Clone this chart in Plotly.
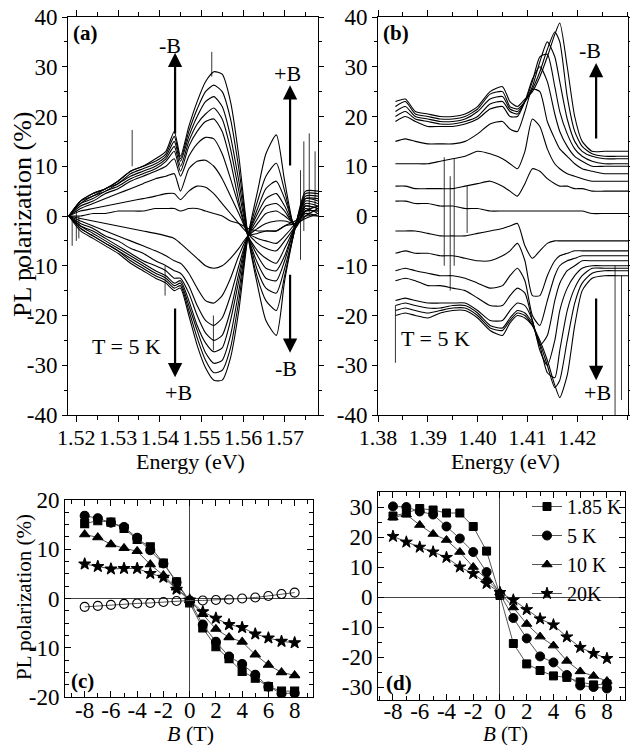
import plotly.graph_objects as go

FONT = "Liberation Serif"

# ---------------- panel (a) data ----------------
a_energy = [1.5182, 1.5210, 1.5240, 1.5270, 1.5300, 1.5330, 1.5360, 1.5390, 1.5415, 1.5435,
            1.5450, 1.5470, 1.5490, 1.5510, 1.5530, 1.5550, 1.5570, 1.5590, 1.5612, 1.5635,
            1.5655, 1.5680, 1.5700, 1.5725, 1.5750, 1.5780]
# negative field (-B), B = -1 ... -8
a_curves_negB = [
    [0, 1, 1.5, 2, 2.5, 3, 3.5, 4, 4.5, 4.5, 3.3, 5, 6, 5.8, 4.5, 2.5, 0.5, -1.5, -3.5, -4.5, -5, -5.5, -4, -1.5, 2, 1.5],
    [0, 1.5, 2.5, 3.5, 4.5, 5.5, 6.5, 7.5, 8, 8.5, 5, 9.5, 11, 11.2, 10, 7.5, 4, 0.5, -3.5, -5.5, -6.5, -7, -5, -2, 2.5, 2],
    [0, 2, 3, 4.5, 5.5, 7, 8, 9, 10, 11.5, 8, 12, 14.5, 15.8, 15.5, 12.5, 7.5, 2, -4, -7, -8.5, -9.5, -6.5, -2, 3, 2.5],
    [0, 2.5, 3.5, 5, 6, 7.5, 8.5, 9.5, 11, 13, 9, 14, 17, 19, 19.5, 17, 11, 3, -4, -8, -10.5, -11, -8, -2, 3.5, 3],
    [0, 2.5, 4, 5, 6.5, 8, 9, 10, 11.5, 14, 10, 15, 18.5, 20.5, 21.7, 19.5, 13.5, 5, -4, -9.5, -12.5, -13, -9, -2, 3.5, 3.5],
    [0, 3, 4, 5.5, 6.5, 8.5, 9.5, 10.5, 12, 15, 11, 16, 20, 23, 24, 22, 16, 7, -4, -11, -14.5, -15.5, -10.5, -2.5, 4, 4],
    [0, 3, 4.5, 5.5, 7, 9, 10, 11, 12.5, 16, 11.5, 17, 21.5, 25, 26.3, 25, 19.5, 9.5, -4, -12.5, -17, -19, -12, -2.5, 4.5, 4.5],
    [0, 3, 4.5, 5.5, 7, 9, 10, 11.5, 13, 17, 12, 18, 23, 27, 29, 28.5, 23, 12, -4, -14, -21, -24, -13, -2.5, 5, 5],
]
a_curve_zeroB = [0, 0, 0.5, 0.5, 1, 1, 1, 1.5, 1.5, 1.5, 1, 1.5, 1.5, 1, 0.5, 0, -1, -1.5, -2.5, -3, -3, -3, -2, -1.5, 1, 1]
# positive field (+B), B = 1 ... 8
a_curves_posB = [
    [0, -0.5, -1, -1.5, -2, -2.5, -3, -3.5, -4, -4.5, -5.5, -7, -8.5, -10, -10.5, -10, -8.5, -6.5, -4, -3.5, -3, -3, -2, -1, 0, 0],
    [0, -1, -2, -3, -4, -5, -6, -7, -8, -9, -9.5, -11.5, -14.5, -17, -17.5, -16, -12.5, -8, -4, -2.5, -1.5, -1, -1, -1.5, -0.5, 0.5],
    [0, -1.5, -2.5, -4, -5, -6.5, -7.5, -9, -10, -11, -11.5, -14, -18, -21, -22, -20.5, -16, -10, -4, -1.5, 0.5, 1, 0, -1.5, 0.5, 0],
    [0, -2, -3, -4.5, -6, -7.5, -9, -10, -11, -12.5, -12.5, -15.5, -20, -23.5, -25, -24, -19, -11.5, -4, -0.5, 2, 2.5, 1, -2, 1, 1],
    [0, -2, -3.5, -5, -6.5, -8, -9.5, -11, -12, -13.5, -13, -17, -22, -25.5, -27.3, -26.5, -21, -13, -4, 0.5, 3.5, 4.5, 2, -2, 0, 1.5],
    [0, -2.5, -4, -5.5, -7, -8.5, -10, -11.5, -12.5, -14, -13.5, -18, -23, -27.5, -29.6, -29, -24, -15, -4, 1.5, 5.5, 7, 3.5, -2, 1.5, 0.5],
    [0, -2.5, -4, -5.5, -7, -9, -10.5, -12, -13, -14.5, -14, -19, -24.5, -29, -31.5, -31, -26.5, -17, -4, 3, 8, 10.6, 5, -2.5, 2, 1.5],
    [0, -3, -4.5, -6, -7.5, -9.5, -11, -12.5, -13.5, -15, -14.5, -20, -26, -30.5, -33, -33, -28.5, -19, -4, 5, 12.5, 16.3, 7, -2.5, 1, 2],
]
a_spike_energy = [1.5190, 1.5200, 1.5206, 1.5334, 1.5413, 1.5525, 1.5529, 1.5738, 1.5746, 1.5759, 1.5773]
a_spike_low = [-6, -5, -4.5, 10, -16, 28, -27, -8.8, -3, 0, 2]
a_spike_high = [-0.5, 1, 0, 17.3, -10, 33, -20, 9.2, 15, 16.6, 13]
a_xticks = [1.52, 1.53, 1.54, 1.55, 1.56, 1.57]
a_xticklabels = ["1.52", "1.53", "1.54", "1.55", "1.56", "1.57"]

# ---------------- panel (b) data ----------------
b_energy = [1.3835, 1.3855, 1.3875, 1.3900, 1.3925, 1.3950, 1.3975, 1.4000, 1.4025, 1.4050,
            1.4065, 1.4080, 1.4095, 1.4110, 1.4125, 1.4140, 1.4155, 1.4165, 1.4180, 1.4195,
            1.4210, 1.4230, 1.4255, 1.4280, 1.4302]
b_curves_negB = [
    [6, 6, 5.5, 5.5, 5.5, 5.5, 6, 6.5, 7, 6, 5, 4, 6.5, 9.5, 9, 7.5, 6.5, 6, 6, 5.5, 5.5, 5, 5, 5, 5],
    [10.5, 10.5, 10.5, 10.5, 11, 11.5, 12, 13, 12.5, 11.5, 10.5, 9.5, 13, 19.5, 18, 13.5, 10.5, 9.5, 8.5, 8, 7.5, 7, 7, 7, 7],
    [15, 15.5, 15, 14.5, 14.5, 14.5, 15, 16.5, 18.5, 19, 17.5, 17, 21, 25.5, 25, 19, 15.5, 13.5, 12, 10.5, 9.5, 9, 8.5, 8.5, 8.5],
    [19, 20, 19, 18, 18, 18, 18.5, 19.5, 21.5, 22, 20, 20, 23, 27.5, 30, 27, 20.5, 17, 14, 12, 11, 10, 10, 10, 10],
    [20, 21, 19.5, 19, 18.5, 18.5, 19, 20, 22.5, 23, 21, 20.5, 23, 27, 32, 32.5, 26, 21, 16.5, 13.5, 12, 11, 10.5, 10.5, 10.5],
    [21, 22, 20, 19.5, 19, 19, 19.5, 21, 23.5, 24, 21.5, 21, 23, 26, 31, 35, 32, 27, 19.5, 15, 13, 12, 11.5, 11.5, 11.5],
    [22, 23, 20.5, 20, 19.5, 19.5, 20, 21.5, 24.5, 25, 22, 21.5, 23, 25.5, 29, 33.5, 37, 35, 24, 17, 14, 12.5, 12, 12, 12],
    [23, 23.5, 21, 20.5, 20, 20, 20.5, 22, 25, 26, 23, 22, 23.5, 25, 28, 32, 36.5, 38.8, 30, 20, 15, 13, 13, 13, 13],
]
b_curve_zeroB = [3, 3, 2.5, 2.5, 2, 2, 1.5, 1.5, 1, 1, 1, 1, 1, 1, 1, 1, 1, 1, 1, 1, 1, 0.5, 0.5, 0.5, 0.5]
b_curves_posB = [
    [-3, -3, -3, -3.5, -4, -4, -4, -3.5, -3, -2.5, -2, -1.5, -6, -8.5, -7, -5.5, -5, -5, -5, -5, -5, -5, -5, -5, -5],
    [-7.5, -7, -7.5, -7.5, -8, -8, -8.5, -9, -9, -8, -7, -5.5, -9, -16, -16, -12, -9, -8, -7.5, -7, -7, -7, -7, -7, -7],
    [-11, -10.5, -11, -11.5, -12, -12, -12.5, -13.5, -14.5, -14, -12, -10.5, -13, -20, -22, -17, -12, -10, -9, -8.5, -8, -8, -8, -8, -8],
    [-13, -12.5, -13, -14, -14, -14.5, -15, -16.5, -18, -18, -16, -14.5, -15.5, -21, -26, -24, -17, -13.5, -11, -10, -9, -9, -9, -9, -9],
    [-17, -16.5, -17, -17.5, -17.5, -17.5, -17.5, -19, -21, -21, -19, -17.5, -18, -21, -27, -30, -25, -19, -14.5, -12, -10.5, -10, -10, -10, -10],
    [-18, -17.5, -18, -18.5, -18.5, -18, -18, -19.5, -22, -22.5, -20.5, -19, -19.5, -21.5, -26, -31.5, -32.5, -27, -19, -14.5, -12, -10.5, -10.5, -10.5, -10.5],
    [-19, -18.5, -19, -19.5, -19, -18.5, -18.5, -20, -22.5, -23, -21, -19.5, -20, -22, -25.5, -30, -34.5, -33, -25, -17.5, -13.5, -11.5, -11, -11, -11],
    [-20, -19.5, -20, -20.5, -19.5, -19, -19, -20.5, -23, -24, -21.5, -20, -20.5, -22, -25, -29, -34, -36.5, -32, -22, -15, -12.5, -12, -12, -12],
]
b_spike_energy = [1.3835, 1.3933, 1.3945, 1.3953, 1.3979, 1.4276, 1.4289]
b_spike_low = [-29.5, -10, -15, -10, -3.4, -40, -37]
b_spike_high = [-18, 11.8, 8, 11.5, 6, -10, -12]
b_xticks = [1.38, 1.39, 1.40, 1.41, 1.42]
b_xticklabels = ["1.38", "1.39", "1.40", "1.41", "1.42"]

ab_yticks = [-40, -30, -20, -10, 0, 10, 20, 30, 40]
ab_yticklabels = ["-40", "-30", "-20", "-10", "0", "10", "20", "30", "40"]

# ---------------- panel (c) data ----------------
c_field = [-8, -7, -6, -5, -4, -3, -2, -1, 0, 1, 2, 3, 4, 5, 6, 7, 8]
c_circle = [16.8, 16.3, 15.4, 14.5, 12.3, 9.8, 7.1, 3.3, -0.5, -5.3, -8.8, -11.8, -13.3, -15.5, -17.9, -19.3, -19.2]
c_square = [15.2, 15.8, 15.5, 14.2, 12.0, 10.5, 7.2, 3.4, -0.9, -6.0, -9.8, -12.2, -14.8, -16.2, -17.9, -18.8, -18.8]
c_triangle = [13.0, 12.4, 11.0, 10.2, 9.6, 6.9, 4.7, 2.2, -0.4, -3.2, -6.2, -7.9, -8.8, -11.4, -13.5, -15.0, -15.6]
c_star = [7.0, 6.5, 6.0, 6.1, 6.1, 5.1, 4.3, 1.9, -0.3, -2.7, -4.0, -5.3, -5.9, -7.2, -8.0, -8.7, -9.0]
c_open = [-1.7, -1.5, -1.3, -1.1, -1.0, -0.9, -0.7, -0.5, -0.4, -0.4, -0.3, -0.2, 0.0, 0.2, 0.5, 0.9, 1.2]
c_yticks = [-20, -10, 0, 10, 20]
c_yticklabels = ["-20", "-10", "0", "10", "20"]

# ---------------- panel (d) data ----------------
d_field = [-8, -7, -6, -5, -4, -3, -2, -1, 0, 1, 2, 3, 4, 5, 6, 7, 8]
d_1p85K = [27.0, 28.0, 29.5, 29.0, 28.0, 28.0, 23.5, 15.3, 0.5, -15.5, -22.3, -24.5, -26.3, -26.8, -28.3, -29.3, -29.0]
d_5K = [30.2, 30.0, 28.5, 27.5, 23.5, 19.5, 15.0, 8.3, 1.0, -7.0, -13.8, -19.8, -21.8, -26.0, -29.5, -30.0, -30.5]
d_10K = [26.5, 27.5, 24.0, 21.0, 19.0, 15.0, 10.0, 6.0, 1.5, -3.5, -9.0, -13.2, -16.2, -21.3, -24.8, -26.3, -28.0]
d_20K = [20.2, 18.3, 16.6, 15.0, 13.2, 10.0, 7.8, 4.5, 1.5, -1.0, -4.2, -7.3, -9.3, -13.3, -16.8, -18.8, -20.5]
d_labels = ["1.85 K", "5 K", "10 K", "20K"]
d_yticks = [-30, -20, -10, 0, 10, 20, 30]
d_yticklabels = ["-30", "-20", "-10", "0", "10", "20", "30"]

B_ticks = [-8, -6, -4, -2, 0, 2, 4, 6, 8]
B_ticklabels = ["-8", "-6", "-4", "-2", "0", "2", "4", "6", "8"]

# ---------------- figure ----------------
W, H = 630, 745
fig = go.Figure()


def px_x(p):
    return p / W


def px_y(p):
    return 1 - p / H


def add_spectra(energy, curves, xa, ya):
    for c in curves:
        fig.add_trace(go.Scatter(
            x=energy, y=c, mode="lines", xaxis=xa, yaxis=ya, showlegend=False,
            hoverinfo="skip",
            line=dict(color="black", width=1.1, shape="spline", smoothing=0.6)))


def add_spikes(es, lo, hi, xa, ya):
    xs, ys = [], []
    for e, l, h in zip(es, lo, hi):
        xs += [e, e, None]
        ys += [l, h, None]
    fig.add_trace(go.Scatter(x=xs, y=ys, mode="lines", xaxis=xa, yaxis=ya,
                             showlegend=False, hoverinfo="skip",
                             line=dict(color="black", width=0.8)))


add_spectra(a_energy, a_curves_negB + [a_curve_zeroB] + a_curves_posB, "x", "y")
add_spikes(a_spike_energy, a_spike_low, a_spike_high, "x", "y")
add_spectra(b_energy, b_curves_negB + [b_curve_zeroB] + b_curves_posB, "x2", "y2")
add_spikes(b_spike_energy, b_spike_low, b_spike_high, "x2", "y2")

LINE_GREY = "#555555"
c_series = [
    (c_square, "square", 8),
    (c_circle, "circle", 9),
    (c_triangle, "triangle-up", 9),
    (c_star, "star", 9),
    (c_open, "circle-open", 9),
]
for vals, sym, sz in c_series:
    fig.add_trace(go.Scatter(
        x=c_field, y=vals, mode="lines+markers", xaxis="x3", yaxis="y3",
        showlegend=False, hoverinfo="skip",
        line=dict(color=LINE_GREY, width=1),
        marker=dict(symbol=sym, size=sz, color="black", line=dict(color="black", width=1.1))))

d_series = [
    (d_1p85K, "square", 8),
    (d_5K, "circle", 9),
    (d_10K, "triangle-up", 9),
    (d_20K, "star", 9),
]
for (vals, sym, sz), lab in zip(d_series, d_labels):
    fig.add_trace(go.Scatter(
        x=d_field, y=vals, mode="lines+markers", xaxis="x4", yaxis="y4",
        name=lab, showlegend=True, hoverinfo="skip",
        line=dict(color=LINE_GREY, width=1),
        marker=dict(symbol=sym, size=sz, color="black", line=dict(color="black", width=1))))


def axis(domain, rng, tickvals, ticktext, anchor, minor_dtick, minor_tick0, zero=False,
         ticklen=7, ticks="outside", minorlen=4, fontsize=23, standoff=0):
    return dict(
        domain=domain, range=rng, anchor=anchor, automargin=False,
        tickmode="array", tickvals=tickvals, ticktext=ticktext, tickangle=0,
        ticks=ticks, ticklen=ticklen, tickwidth=1, tickcolor="black",
        ticklabelstandoff=standoff,
        minor=dict(dtick=minor_dtick, tick0=minor_tick0, ticks=ticks, ticklen=minorlen,
                   tickwidth=1, tickcolor="black", showgrid=False),
        showline=True, linewidth=1, linecolor="black", mirror="ticks",
        showgrid=False, zeroline=zero, zerolinecolor="#444444", zerolinewidth=1,
        tickfont=dict(family=FONT, size=fontsize, color="black"), fixedrange=True)


top_y = [px_y(415), px_y(17)]
fig.update_layout(
    xaxis=axis([px_x(68), px_x(318)], [1.518, 1.578], a_xticks, a_xticklabels, "y", 0.005, 1.52,
               ticklen=6, fontsize=22, standoff=-3),
    yaxis=axis(top_y, [-40, 40], ab_yticks, ab_yticklabels, "x", 5, 0, ticklen=5, minorlen=3),
    xaxis2=axis([px_x(378), px_x(628)], [1.38, 1.4302], b_xticks, b_xticklabels, "y2", 0.005, 1.38,
                ticklen=6, fontsize=22, standoff=-3),
    yaxis2=axis(top_y, [-40, 40], ab_yticks, ab_yticklabels, "x2", 5, 0, ticklen=5, minorlen=3),
    xaxis3=axis([px_x(65), px_x(313)], [-9.5, 9.4], B_ticks, B_ticklabels, "y3", 1, 0, zero=True,
                ticklen=6, ticks="inside", minorlen=4, standoff=-8),
    yaxis3=axis([px_y(697), px_y(500)], [-20, 20], c_yticks, c_yticklabels, "x3", 2.5, 0, zero=True,
                ticklen=6, ticks="inside", minorlen=4),
    xaxis4=axis([px_x(378), px_x(625)], [-9.12, 9.35], B_ticks, B_ticklabels, "y4", 1, 0, zero=True,
                ticklen=6, ticks="inside", minorlen=4, standoff=-10),
    yaxis4=axis([px_y(700), px_y(492)], [-34.33, 35], d_yticks, d_yticklabels, "x4", 5, 0, zero=True,
                ticklen=6, ticks="inside", minorlen=4),
)

annotations = []


def text(x, y, s, size=22, bold=False, angle=0, yanchor="middle"):
    annotations.append(dict(
        x=x, y=y, xref="paper", yref="paper", text=("<b>%s</b>" % s) if bold else s,
        showarrow=False, textangle=angle, xanchor="center", yanchor=yanchor,
        font=dict(family=FONT, size=size, color="black")))


def arrow(xa, ya, x, y_tail, y_tip):
    annotations.append(dict(
        x=x, y=y_tip, ax=x, ay=y_tail, xref=xa, yref=ya, axref=xa, ayref=ya,
        text="", showarrow=True, arrowhead=2, arrowsize=1.3, arrowwidth=2.2,
        arrowcolor="black", standoff=0, startstandoff=0))


# axis titles
text(px_x(23), px_y(214), "PL polarization (%)", size=26, angle=-90)
text(px_x(24), px_y(597), "PL polarization (%)", size=21, angle=-90)
text(px_x(190), px_y(462), "Energy (eV)", size=22)
text(px_x(505), px_y(462), "Energy (eV)", size=22)
text(px_x(190), px_y(733), "<i>B</i> (T)", size=22)
text(px_x(505), px_y(734), "<i>B</i> (T)", size=21)

# panel labels
text(px_x(85), px_y(33), "(a)", size=21, bold=True)
text(px_x(396), px_y(33), "(b)", size=21, bold=True)
text(px_x(82), px_y(681), "(c)", size=21, bold=True)
text(px_x(399), px_y(683), "(d)", size=21, bold=True)

# in-panel labels
text(px_x(170), px_y(45), "-B", size=22)
text(px_x(287), px_y(73), "+B", size=22)
text(px_x(286), px_y(368), "-B", size=22)
text(px_x(178), px_y(392), "+B", size=22)
text(px_x(126), px_y(346), "T = 5 K", size=22)
text(px_x(590), px_y(50), "-B", size=22)
text(px_x(597), px_y(392), "+B", size=22)
text(px_x(435), px_y(338), "T = 5 K", size=22)

# arrows
arrow("x", "y", 1.5437, 16.3, 32.8)
arrow("x", "y", 1.5713, 9.85, 26.3)
arrow("x", "y", 1.5713, -11.5, -27.5)
arrow("x", "y", 1.5437, -18.3, -32.4)
arrow("x2", "y2", 1.4238, 15.3, 30.75)
arrow("x2", "y2", 1.4238, -16.3, -33.0)

fig.update_layout(
    annotations=annotations,
    width=W, height=H, margin=dict(l=0, r=0, t=0, b=0, autoexpand=False),
    paper_bgcolor="white", plot_bgcolor="white",
    font=dict(family=FONT, size=22, color="black"),
    showlegend=True,
    legend=dict(x=px_x(627), y=px_y(487), xanchor="right", yanchor="top",
                bgcolor="rgba(0,0,0,0)", borderwidth=0,
                font=dict(family=FONT, size=20, color="black"),
                tracegroupgap=0, itemsizing="trace"),
)

fig.write_html("out.html")
